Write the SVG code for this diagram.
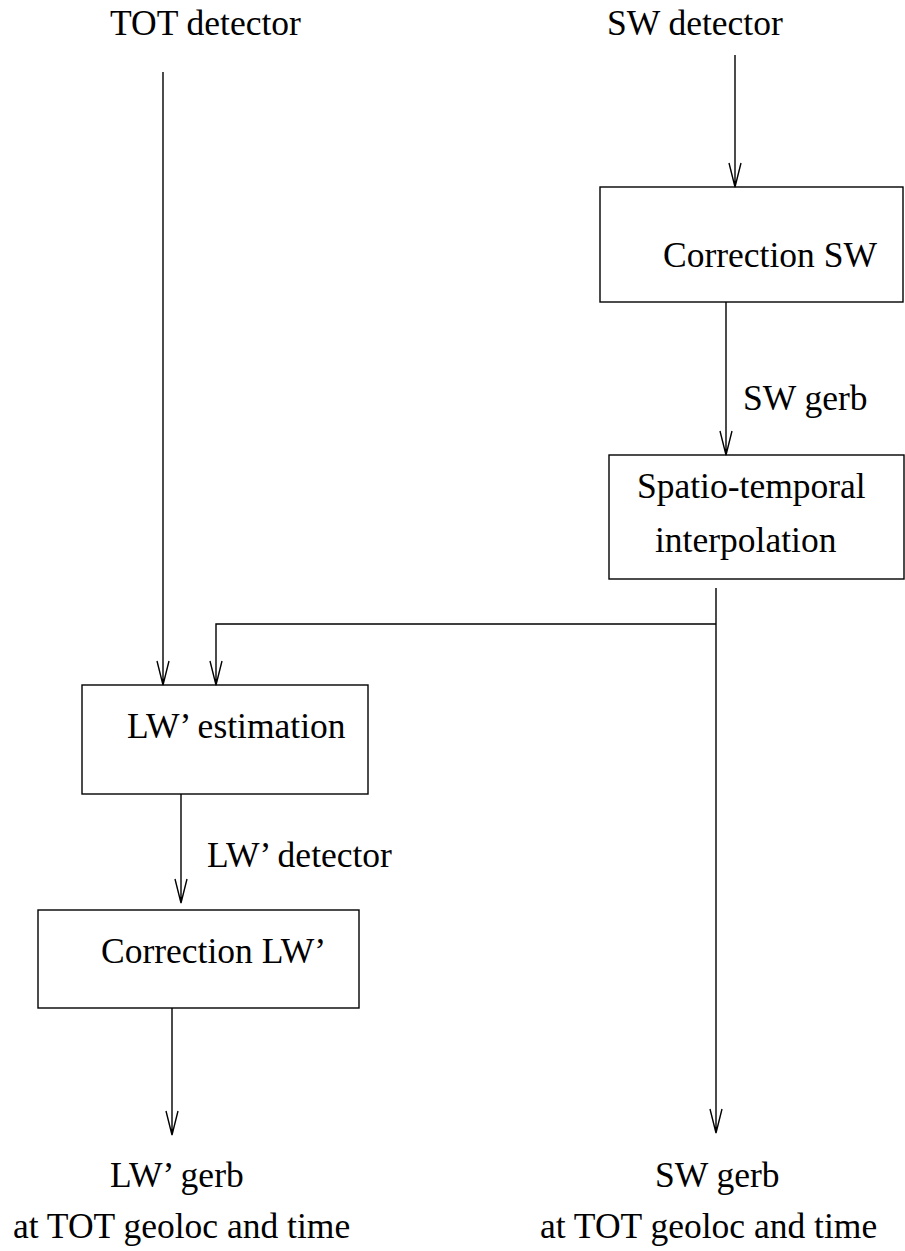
<svg xmlns="http://www.w3.org/2000/svg" width="905" height="1251" viewBox="0 0 905 1251">
<style>
.ln,.box{fill:none;stroke:#000;stroke-width:1.4}
</style>
<rect width="905" height="1251" fill="#fff"/>
<g font-family="Liberation Serif, Times New Roman, Times, serif" font-size="35.5" fill="#000">
<g id="tot"><text x="110" y="35">TOT detector</text></g>
<g id="swdet"><text x="607" y="35">SW detector</text></g>
<g id="corrsw"><rect class="box" x="600" y="187" width="303" height="115"/><text x="663" y="267">Correction SW</text></g>
<g id="spatio"><rect class="box" x="609" y="455" width="295" height="124"/><text x="637" y="498">Spatio-temporal</text><text x="655" y="552">interpolation</text></g>
<g id="lwest"><rect class="box" x="82" y="685" width="286" height="109"/><text x="127" y="738">LW’ estimation</text></g>
<g id="corrlw"><rect class="box" x="38" y="910" width="321" height="98"/><text x="101" y="963">Correction LW’</text></g>
<g id="lwout"><text x="110" y="1187">LW’ gerb</text><text x="13" y="1238">at TOT geoloc and time</text></g>
<g id="swout"><text x="655" y="1187">SW gerb</text><text x="540" y="1238">at TOT geoloc and time</text></g>
<g id="connectors">
<path class="ln" d="M163,72 V685 M157,661 L163,685 L169,661"/>
<path class="ln" d="M735,55 V187 M729,163 L735,187 L741,163"/>
<path class="ln" d="M726,302 V455 M720,431 L726,455 L732,431"/>
<path class="ln" d="M716,588 V1133 M710,1109 L716,1133 L722,1109"/>
<path class="ln" d="M716,624 H216 V685 M210,661 L216,685 L222,661"/>
<path class="ln" d="M181,794 V903 M175,879 L181,903 L187,879"/>
<path class="ln" d="M172,1008 V1135 M166,1111 L172,1135 L178,1111"/>
<text x="743" y="410">SW gerb</text>
<text x="207" y="867">LW’ detector</text>
</g>
</g>
</svg>
